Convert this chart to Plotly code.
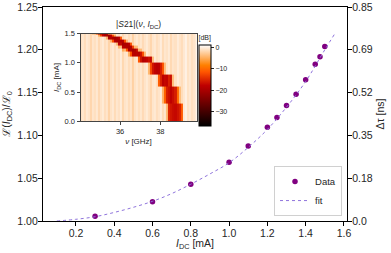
import numpy as np
import plotly.graph_objects as go

# ---------------- data ----------------
I_data = [0.3, 0.6, 0.8, 1.0, 1.1, 1.2, 1.25, 1.3, 1.35, 1.4, 1.45, 1.475, 1.5]
L_data = [1.0055, 1.0225, 1.043, 1.0686, 1.0876, 1.1095, 1.121, 1.135, 1.148, 1.165, 1.183, 1.192, 1.204]

I_fit = [0.1, 0.2, 0.3, 0.4, 0.5, 0.6, 0.7, 0.8, 0.9, 1.0, 1.1, 1.2, 1.3, 1.4, 1.5, 1.55]
L_fit = [1.000, 1.002, 1.005, 1.010, 1.016, 1.023, 1.032, 1.043, 1.055, 1.068, 1.086, 1.107, 1.133, 1.163, 1.200, 1.218]

x_ticks = [0.2, 0.4, 0.6, 0.8, 1.0, 1.2, 1.4, 1.6]
y_ticks = [1.00, 1.05, 1.10, 1.15, 1.20, 1.25]
tau_ticks = [0.0, 0.17, 0.34, 0.51, 0.68, 0.85]
tau_labels = ["0.0", "0.18", "0.35", "0.52", "0.69", "0.85"]

# inset heatmap: current row edges, resonance centre and depth per row
I_edges = [0.0, 0.3, 0.6, 0.8, 1.0, 1.1, 1.2, 1.25, 1.3, 1.35, 1.4, 1.45, 1.475, 1.5]
res_freq = [38.7, 38.57, 38.3, 37.85, 37.3, 36.87, 36.6, 36.4, 36.2, 35.98, 35.7, 35.35, 35.1]
res_depth = [-16, -16, -16.5, -17, -17, -17.5, -18, -18, -18.5, -18.5, -19, -19, -19]
# dip shape (fraction of depth) at offsets -0.4 .. +0.4 GHz in 0.1 GHz steps
dip_shape = [0.18, 0.6, 0.9, 1.0, 1.0, 1.0, 0.9, 0.6, 0.18]
# frequency column edges (GHz) and faint background stripes (dB)
f_edges = [round(34.0 + 0.1 * k, 2) for k in range(59)]
background = [-1.2, -0.8, -1.5, -0.6, -1.0, -2.0, -0.9, -1.3, -0.7, -1.8,
              -1.0, -0.5, -1.4, -0.9, -2.2, -1.1, -0.6, -1.6, -0.8, -1.2,
              -0.4, -1.9, -1.0, -0.7, -1.5, -0.9, -2.4, -1.1, -0.6, -1.3,
              -0.8, -1.7, -1.0, -0.5, -1.2, -2.0, -0.9, -0.6, -1.4, -1.0,
              -0.3, -1.6, -0.8, -1.1, -0.5, -1.8, -0.9, -1.2, -0.4, -1.0,
              -1.5, -0.7, 0.0, -1.1, -0.6, -1.3, -0.9, -0.5]

# build heatmap table
f_centers = [(f_edges[i] + f_edges[i + 1]) / 2 for i in range(len(f_edges) - 1)]
z = []
for r, f0 in enumerate(res_freq):
    row = []
    for c, fc in enumerate(f_centers):
        k = int(round((fc - f0) / 0.1))
        v = background[c]
        if abs(k) <= 4:
            v = v + res_depth[r] * dip_shape[k + 4]
        row.append(v)
    z.append(row)

# gist_heat colour scale
gist_heat = [[0.0, "rgb(0,0,0)"], [0.5, "rgb(191,0,0)"], [0.6667, "rgb(255,85,0)"],
             [0.75, "rgb(255,128,0)"], [1.0, "rgb(255,255,255)"]]

FONT = "Liberation Sans, Arial, sans-serif"
TXT = "#262626"

fig = go.Figure()

fig.add_trace(go.Scatter(x=I_data, y=L_data, mode="markers", name="Data",
                         marker=dict(color="#800080", size=5.5), xaxis="x", yaxis="y"))
fig.add_trace(go.Scatter(x=I_fit, y=L_fit, mode="lines", name="fit", line_shape="spline",
                         line=dict(color="#8f74dc", width=1, dash="dot"), xaxis="x", yaxis="y"))
# invisible trace to activate the right axis
fig.add_trace(go.Scatter(x=[None], y=[None], showlegend=False, xaxis="x", yaxis="y2"))

fig.add_trace(go.Heatmap(x=f_edges, y=I_edges, z=z, colorscale=gist_heat, zmin=-36.5, zmax=1,
                         xaxis="x2", yaxis="y3", showlegend=False,
                         colorbar=dict(x=0.513, xanchor="left", xpad=0, ypad=0,
                                       thickness=12, thicknessmode="pixels",
                                       len=0.4407, lenmode="fraction", y=0.664, yanchor="middle",
                                       outlinecolor="black", outlinewidth=1,
                                       tickvals=[0, -10, -20, -30], ticktext=["0", "−10", "−20", "−30"],
                                       ticks="outside", ticklen=3, tickcolor=TXT,
                                       tickfont=dict(size=7, color=TXT, family=FONT),
                                       title=dict(text="[dB]", side="top",
                                                  font=dict(size=7, color=TXT, family=FONT)))))

axis_common = dict(showgrid=False, zeroline=False, showline=True, linecolor="black",
                   linewidth=1.2, ticks="outside", ticklen=4, tickcolor="black",
                   automargin=False, ticklabelstandoff=-2,
                   tickfont=dict(size=10.5, color=TXT, family=FONT))
inset_common = dict(showgrid=False, zeroline=False, showline=True, mirror=True,
                    linecolor="#444", linewidth=1, ticks="outside", ticklen=3, tickcolor="#444",
                    automargin=False,
                    tickfont=dict(size=7.5, color=TXT, family=FONT))

fig.update_layout(
    width=391, height=253,
    margin=dict(l=43, r=44, t=7, b=32, autoexpand=False),
    plot_bgcolor="white", paper_bgcolor="white",
    font=dict(family=FONT, color=TXT),
    xaxis=dict(domain=[0, 1], range=[0.028, 1.616], tickvals=x_ticks,
               ticktext=[f"{v:.1f}" for v in x_ticks], mirror=True, anchor="y",
               **axis_common),
    yaxis=dict(domain=[0, 1], range=[1.0, 1.25], tickvals=y_ticks,
               ticktext=[f"{v:.2f}" for v in y_ticks], anchor="x",
               title=dict(text="ℒ(<i>I</i><sub>DC</sub>)/ℒ<sub>0</sub>", standoff=4,
                          font=dict(size=10.5, color=TXT, family=FONT)),
               **axis_common),
    yaxis2=dict(overlaying="y", side="right", anchor="x", range=[0, 0.85],
                tickvals=tau_ticks, ticktext=tau_labels,
                title=dict(text="Δτ [ns]", standoff=4,
                           font=dict(size=10.5, color=TXT, family=FONT)),
                **axis_common),
    xaxis2=dict(domain=[0.1234, 0.505], anchor="y3", range=[34.03, 39.8],
                tickvals=[36, 38], ticktext=["36", "38"],
                title=dict(text="<i>ν</i> [GHz]", standoff=2,
                           font=dict(size=8, color=TXT, family=FONT)),
                **inset_common),
    yaxis3=dict(domain=[0.465, 0.876], anchor="x2", range=[0, 1.5],
                tickvals=[0, 0.5, 1.0, 1.5], ticktext=["0.0", "0.5", "1.0", "1.5"],
                title=dict(text="<i>I</i><sub>DC</sub> [mA]", standoff=3,
                           font=dict(size=8, color=TXT, family=FONT)),
                **inset_common),
    legend=dict(x=0.9836, xanchor="right", y=0.023, yanchor="bottom",
                bordercolor="#d0d0d0", borderwidth=1, bgcolor="rgba(255,255,255,0.85)",
                font=dict(size=9.5, color=TXT, family=FONT), itemwidth=30,
                tracegroupgap=0),
    annotations=[
        dict(text="|<i>S</i>21|(<i>ν</i>, <i>I</i><sub>DC</sub>)", xref="paper", yref="paper",
             x=0.3142, y=0.885, xanchor="center", yanchor="bottom", showarrow=False,
             font=dict(size=8.5, color=TXT, family=FONT)),
        dict(text="<i>I</i><sub>DC</sub> [mA]", xref="paper", yref="paper",
             x=0.5, y=-0.1075, xanchor="center", yanchor="middle", showarrow=False,
             font=dict(size=10.5, color=TXT, family=FONT)),
    ],
)

fig.write_html("out.html", config={"displayModeBar": False},
               post_script="document.body.style.margin='0';document.body.style.overflow='hidden';")
